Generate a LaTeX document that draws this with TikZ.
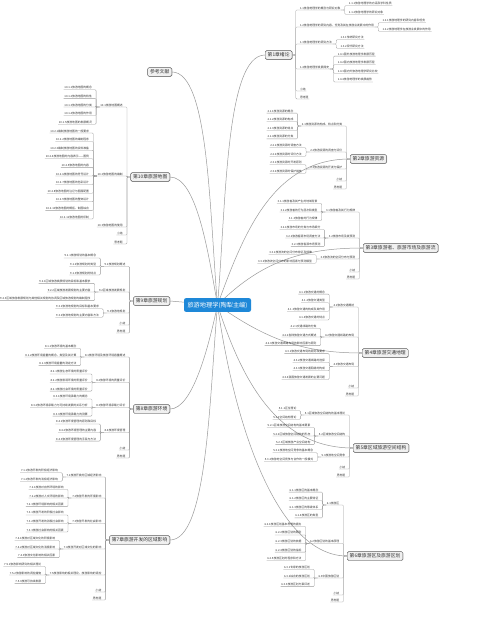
\documentclass[tikz,border=0pt]{standalone}
\usepackage{fontspec}
\setmainfont{Noto Sans CJK SC}
\usetikzlibrary{calc,positioning,shadows,backgrounds}
\definecolor{Ink}{HTML}{333333}
\definecolor{Wire}{HTML}{9A9A9A}
\definecolor{Ocean}{HTML}{1E88D8}
\definecolor{Mist}{HTML}{F0F0F0}
\definecolor{Slate}{HTML}{5A5A5A}
\colorlet{mapLine}{Wire}
% sub-topics laid out to the left / right of a parent
\newcommand\subtopics[3]{%
  \foreach \txt [count=\i from 0] in {#3}{
    \node[leaf,anchor=east] (#1-\i) at ([xshift=-7pt,yshift={((#2-1)/2-\i)*8.6pt}]#1.west) {\txt};
    \draw[conn] (#1.south west) -- ++(-3.5,0) |- (#1-\i.south east) -- (#1-\i.south west);
  }}
\newcommand\subtopicsR[3]{%
  \foreach \txt [count=\i from 0] in {#3}{
    \node[leaf,anchor=west] (#1-\i) at ([xshift=7pt,yshift={((#2-1)/2-\i)*8.6pt}]#1.east) {\txt};
    \draw[conn] (#1.south east) -- ++(3.5,0) |- (#1-\i.south west) -- (#1-\i.south east);
  }}
\begin{document}
\begin{tikzpicture}[x=1pt,y=-1pt,
 root/.style={fill=Ocean,text=white,rounded corners=2pt,inner xsep=3.5pt,inner ysep=3.6pt,
   font=\fontsize{6.2}{7}\selectfont},
 chap/.style={draw=Slate,fill=Mist,rounded corners=1.5pt,inner xsep=2.5pt,inner ysep=2.2pt,
   line width=0.4pt,font=\fontsize{4.8}{5.5}\selectfont,text=Ink,
   drop shadow={shadow xshift=0.5pt,shadow yshift=-0.5pt,opacity=0.35}},
 leaf/.style={inner xsep=0.6pt,inner ysep=0.5pt,font=\fontsize{2.8}{3.2}\selectfont,text=Ink},
 conn/.style={draw=mapLine,line width=0.3pt,rounded corners=1pt},
 trunk/.style={draw=mapLine,line width=0.5pt}]
 \useasboundingbox (0,0) rectangle (500,617);
 \node[root] (root) at (217.5,305) {旅游地理学(陶犁主编)};
 % chapters
 \node[chap,anchor=west] (ch1) at (265,55) {第1章绪论};
 \node[chap,anchor=west] (ch2) at (350,159) {第2章旅游资源};
 \node[chap,anchor=west] (ch3) at (363,248) {第3章旅游者、旅游市场及旅游流};
 \node[chap,anchor=west] (ch4) at (362,353) {第4章旅游交通地理};
 \node[chap,anchor=west] (ch5) at (353,448) {第5章区域旅游空间结构};
 \node[chap,anchor=west] (ch6) at (347,556) {第6章旅游区及旅游区划};
 \node[chap,anchor=east] (ref) at (172,72) {参考文献};
 \node[chap,anchor=east] (ch10) at (170,177) {第10章旅游地图};
 \node[chap,anchor=east] (ch9) at (170,301) {第9章旅游规划};
 \node[chap,anchor=east] (ch8) at (170,409) {第8章旅游环境};
 \node[chap,anchor=east] (ch7) at (170,540) {第7章旅游开发的区域影响};
 \begin{scope}[on background layer]
  \fill[white] (0,0) rectangle (500,617);
  \draw[trunk] (root.center) to[out=85,in=180,in looseness=0.4] (ch1.west);
  \draw[trunk] (root.center) to[out=70,in=180] (ch2.west);
  \draw[trunk] (root.center) to[out=45,in=180] (ch3.west);
  \draw[trunk] (root.center) to[out=-35,in=180] (ch4.west);
  \draw[trunk] (root.center) to[out=-72,in=180] (ch5.west);
  \draw[trunk] (root.center) to[out=-82,in=180,out looseness=1.2,in looseness=0.6] (ch6.west);
  \draw[trunk] (root.center) to[out=95,in=0,in looseness=0.4] (ref.east);
  \draw[trunk] (root.center) to[out=100,in=0,in looseness=0.5] (ch10.east);
  \draw[trunk] (root.center) -- (ch9.east);
  \draw[trunk] (root.center) to[out=-102,in=0,in looseness=0.5] (ch8.east);
  \draw[trunk] (root.center) to[out=-95,in=0,in looseness=0.4] (ch7.east);
 \end{scope}

 % chapter 1
 \coordinate (s1) at ([xshift=7pt]ch1.east);
 \node[leaf,anchor=west] (c11) at (s1 |- 0,8) {1.1旅游地理学的概念与研究对象};
 \node[leaf,anchor=west] (c12) at (s1 |- 0,25) {1.2旅游地理学的研究内容、任务及其在旅游业发展中的作用};
 \node[leaf,anchor=west] (c13) at (s1 |- 0,42) {1.3旅游地理学的研究方法};
 \node[leaf,anchor=west] (c14) at (s1 |- 0,67) {1.4旅游地理学发展简史};
 \node[leaf,anchor=west] (x1) at (s1 |- 0,89) {小结};
 \node[leaf,anchor=west] (q1) at (s1 |- 0,97) {思考题};
 \foreach \c in {c11,c12,c13,c14,x1,q1}
  \draw[conn] (ch1.east) -- ++(3.5,0) |- (\c.south west) -- (\c.south east);
 \subtopicsR{c11}{2}{1.1.1旅游地理学的内涵及学科性质,1.1.2旅游地理学的研究对象}
 \subtopicsR{c12}{2}{1.2.1旅游地理学的研究内容和任务,1.2.2旅游地理学在旅游业发展中的作用}
 \subtopicsR{c13}{2}{1.3.1传统研究方法,1.3.2现代研究方法}
 \subtopicsR{c14}{4}{1.4.1国外旅游地理学发展历程,1.4.2国内旅游地理学发展历程,1.4.3国内外旅游地理学研究比较,1.4.4旅游地理学的发展趋势}

 % chapter 2
 \coordinate (s2) at ([xshift=-7pt]ch2.west);
 \node[leaf,anchor=east] (c21) at (s2 |- 0,124) {2.1旅游资源的构成、特点和分类};
 \node[leaf,anchor=east] (c22) at (s2 |- 0,150) {2.2旅游资源的调查与评价};
 \node[leaf,anchor=east] (c23) at (s2 |- 0,167) {2.3旅游资源的开发与保护};
 \node[leaf,anchor=east] (x2) at (s2 |- 0,179) {小结};
 \node[leaf,anchor=east] (q2) at (s2 |- 0,187) {思考题};
 \foreach \c in {c21,c22,c23,x2,q2}
  \draw[conn] (ch2.west) -- ++(-3.5,0) |- (\c.south east) -- (\c.south west);
 \subtopics{c21}{4}{2.1.1旅游资源的概念,2.1.2旅游资源的构成,2.1.3旅游资源的特点,2.1.4旅游资源的分类}
 \subtopics{c22}{2}{2.2.1旅游资源的调查方法,2.2.2旅游资源的评价方法}
 \subtopics{c23}{2}{2.3.1旅游资源的开发原则,2.3.2旅游资源的保护措施}

 % chapter 3
 \coordinate (s3) at ([xshift=-7pt]ch3.west);
 \node[leaf,anchor=east] (c31) at (s3 |- 0,210) {3.1旅游者及其行为规律};
 \node[leaf,anchor=east] (c32) at (s3 |- 0,236) {3.2旅游市场及其预测};
 \node[leaf,anchor=east] (c33) at (s3 |- 0,257) {3.3旅游流的空间分布与预测};
 \node[leaf,anchor=east] (x3) at (s3 |- 0,270) {小结};
 \node[leaf,anchor=east] (q3) at (s3 |- 0,277) {思考题};
 \foreach \c in {c31,c32,c33,x3,q3}
  \draw[conn] (ch3.west) -- ++(-3.5,0) |- (\c.south east) -- (\c.south west);
 \subtopics{c31}{3}{3.1.1旅游者及其产生的地域背景,3.1.2旅游者的行为层次和类型,3.1.3旅游者的行为规律}
 \subtopics{c32}{3}{3.2.1旅游市场的分类与市场细分,3.2.2旅游客源市场调查方法,3.2.3旅游客源市场预测}
 \subtopics{c33}{2}{3.3.1旅游流的空间分布特征及规律,3.3.2旅游流空间分布的影响因素与预测模型}

 % chapter 4
 \coordinate (s4) at ([xshift=-7pt]ch4.west);
 \node[leaf,anchor=east] (c41) at (s4 |- 0,305) {4.1旅游交通概述};
 \node[leaf,anchor=east] (c42) at (s4 |- 0,335) {4.2旅游交通线路的布局};
 \node[leaf,anchor=east] (c43) at (s4 |- 0,364.5) {4.3旅游交通布局};
 \node[leaf,anchor=east] (x4) at (s4 |- 0,386) {小结};
 \node[leaf,anchor=east] (q4) at (s4 |- 0,394) {思考题};
 \foreach \c in {c41,c42,c43,x4,q4}
  \draw[conn] (ch4.west) -- ++(-3.5,0) |- (\c.south east) -- (\c.south west);
 \subtopics{c41}{4}{4.1.1旅游交通的概念,4.1.2旅游交通类型,4.1.3旅游交通的构成及其作用,4.1.4旅游交通的特点}
 \subtopics{c42}{3}{4.2.1交通线路的分类,4.2.2各种旅游交通方式概述,4.2.3旅游交通线路布局的影响因素与原则}
 \subtopics{c43}{4}{4.3.1旅游交通布局的原则和要求,4.3.2旅游交通线路的选择,4.3.3旅游交通网络的构成,4.3.4我国旅游交通发展的主要问题}

 % chapter 5
 \coordinate (s5) at ([xshift=-7pt]ch5.west);
 \node[leaf,anchor=east] (c51) at (s5 |- 0,413) {5.1区域旅游空间结构的基本理论};
 \node[leaf,anchor=east] (c52) at (s5 |- 0,434) {5.2区域旅游空间结构};
 \node[leaf,anchor=east] (c53) at (s5 |- 0,455) {5.3旅游地空间竞争};
 \node[leaf,anchor=east] (x5) at (s5 |- 0,467) {小结};
 \node[leaf,anchor=east] (q5) at (s5 |- 0,475) {思考题};
 \foreach \c in {c51,c52,c53,x5,q5}
  \draw[conn] (ch5.west) -- ++(-3.5,0) |- (\c.south east) -- (\c.south west);
 \subtopics{c51}{2}{5.1.1区位理论,5.1.2空间结构理论}
 \subtopics{c52}{3}{5.2.1区域旅游空间结构的基本要素,5.2.2区域旅游空间结构的形态,5.2.3区域旅游产业空间结构}
 \subtopics{c53}{2}{5.3.1旅游地空间竞争的基本概念,5.3.2旅游地空间竞争与合作的一般模式}

 % chapter 6
 \coordinate (s6) at ([xshift=-7pt]ch6.west);
 \node[leaf,anchor=east] (c61) at (s6 |- 0,503) {6.1旅游区};
 \node[leaf,anchor=east] (c62) at (s6 |- 0,541.5) {6.2旅游区划的基本原理};
 \node[leaf,anchor=east] (c63) at (s6 |- 0,576) {6.3中国旅游区划};
 \node[leaf,anchor=east] (x6) at (s6 |- 0,593) {小结};
 \node[leaf,anchor=east] (q6) at (s6 |- 0,600) {思考题};
 \foreach \c in {c61,c62,c63,x6,q6}
  \draw[conn] (ch6.west) -- ++(-3.5,0) |- (\c.south east) -- (\c.south west);
 \subtopics{c61}{4}{6.1.1旅游区的基本概念,6.1.2旅游区的主要特征,6.1.3旅游区的等级体系,6.1.4旅游区的类型}
 \subtopics{c62}{5}{6.2.1旅游区划基本思想的提出,6.2.2旅游区划的原则,6.2.3旅游区划的依据,6.2.4旅游区划的指标,6.2.5旅游区划的程序和方法}
 \subtopics{c63}{3}{6.3.1专家的旅游区划,6.3.2综合的旅游区划,6.3.3旅游区划方案评述}

 % chapter 7
 \coordinate (s7) at ([xshift=-7pt]ch7.west);
 \node[leaf,anchor=east] (c71) at (s7 |- 0,475) {7.1旅游开发的区域经济影响};
 \node[leaf,anchor=east] (c72) at (s7 |- 0,496) {7.2旅游开发的环境影响};
 \node[leaf,anchor=east] (c73) at (s7 |- 0,521.5) {7.3旅游开发的社会影响};
 \node[leaf,anchor=east] (c74) at (s7 |- 0,547) {7.4旅游开发对区域文化的影响};
 \node[leaf,anchor=east] (c75) at (s7 |- 0,573) {7.5旅游影响的相关理论、旅游影响的调控};
 \node[leaf,anchor=east] (x7) at (s7 |- 0,590) {小结};
 \node[leaf,anchor=east] (q7) at (s7 |- 0,598) {思考题};
 \foreach \c in {c71,c72,c73,c74,c75,x7,q7}
  \draw[conn] (ch7.west) -- ++(-3.5,0) |- (\c.south east) -- (\c.south west);
 \subtopics{c71}{2}{7.1.1旅游开发的积极经济影响,7.1.2旅游开发的消极经济影响}
 \subtopics{c72}{3}{7.2.1旅游对自然环境的影响,7.2.2旅游对人文环境的影响,7.2.3旅游环境影响的相关因素}
 \subtopics{c73}{3}{7.3.1旅游开发的积极社会影响,7.3.2旅游开发的消极社会影响,7.3.3旅游社会影响的相关因素}
 \subtopics{c74}{3}{7.4.1旅游对区域文化的积极影响,7.4.2旅游对区域文化的消极影响,7.4.3旅游文化影响的相关因素}
 \subtopics{c75}{3}{7.5.1旅游影响研究的相关理论,7.5.2旅游影响的调控措施,7.5.3旅游可持续发展}

 % chapter 8
 \coordinate (s8) at ([xshift=-7pt]ch8.west);
 \node[leaf,anchor=east] (c81) at (s8 |- 0,355) {8.1旅游环境及旅游环境容量概述};
 \node[leaf,anchor=east] (c82) at (s8 |- 0,380.5) {8.2旅游环境的质量评价};
 \node[leaf,anchor=east] (c83) at (s8 |- 0,405.5) {8.3旅游环境承载力评价};
 \node[leaf,anchor=east] (c84) at (s8 |- 0,430.5) {8.4旅游环境管理};
 \node[leaf,anchor=east] (x8) at (s8 |- 0,448) {小结};
 \node[leaf,anchor=east] (q8) at (s8 |- 0,456) {思考题};
 \foreach \c in {c81,c82,c83,c84,x8,q8}
  \draw[conn] (ch8.west) -- ++(-3.5,0) |- (\c.south east) -- (\c.south west);
 \subtopics{c81}{3}{8.1.1旅游环境的基本概念,8.1.2旅游环境容量的概念、类型及其计算,8.1.3旅游环境容量的测定方法}
 \subtopics{c82}{3}{8.2.1旅游生态环境的质量评价,8.2.2旅游景观环境的质量评价,8.2.3旅游社会环境的质量评价}
 \subtopics{c83}{3}{8.3.1旅游环境承载力的概念,8.3.2旅游环境承载力与可持续发展的关系分析,8.3.3旅游环境承载力的测算}
 \subtopics{c84}{3}{8.4.1旅游环境管理的原则和目标,8.4.2旅游环境管理的主要内容,8.4.3旅游环境管理的手段与方法}

 % chapter 9
 \coordinate (s9) at ([xshift=-7pt]ch9.west);
 \node[leaf,anchor=east] (c91) at (s9 |- 0,264.5) {9.1旅游规划概述};
 \node[leaf,anchor=east] (c92) at (s9 |- 0,290) {9.2区域旅游发展规划};
 \node[leaf,anchor=east] (c93) at (s9 |- 0,311) {9.3旅游地规划};
 \node[leaf,anchor=east] (x9) at (s9 |- 0,323) {小结};
 \node[leaf,anchor=east] (q9) at (s9 |- 0,331) {思考题};
 \foreach \c in {c91,c92,c93,x9,q9}
  \draw[conn] (ch9.west) -- ++(-3.5,0) |- (\c.south east) -- (\c.south west);
 \subtopics{c91}{3}{9.1.1旅游规划的基本概念,9.1.2旅游规划的类型,9.1.3旅游规划的特点}
 \subtopics{c92}{3}{9.2.1区域旅游发展规划的目标和基本要求,9.2.2区域旅游发展规划的主要内容,9.2.3区域旅游发展规划与其他相关规划的协调及区域旅游规划的编制程序}
 \subtopics{c93}{2}{9.3.1旅游地规划的目标和基本要求,9.3.2旅游地规划的主要内容和方法}

 % chapter 10
 \coordinate (s10) at ([xshift=-7pt]ch10.west);
 \node[leaf,anchor=east] (c101) at (s10 |- 0,105) {10.1旅游地图概述};
 \node[leaf,anchor=east] (c102) at (s10 |- 0,174) {10.2旅游地图的编制};
 \node[leaf,anchor=east] (c103) at (s10 |- 0,225) {10.3旅游地图的使用};
 \node[leaf,anchor=east] (x10) at (s10 |- 0,233) {小结};
 \node[leaf,anchor=east] (q10) at (s10 |- 0,242) {思考题};
 \foreach \c in {c101,c102,c103,x10,q10}
  \draw[conn] (ch10.west) -- ++(-3.5,0) |- (\c.south east) -- (\c.south west);
 \subtopics{c101}{5}{10.1.1旅游地图的概念,10.1.2旅游地图的特性,10.1.3旅游地图的分类,10.1.4旅游地图的作用,10.1.5旅游地图的发展概况}
 \subtopics{c102}{11}{10.2.1编制旅游地图的一般要求,10.2.2旅游地图的编制程序,10.2.3编制旅游地图的资料准备,10.2.4旅游地图的内容表示——图例,10.2.5旅游地图的内容,10.2.6旅游地图的符号设计,10.2.7旅游地图的色彩设计,10.2.8旅游地图的注记与图面配置,10.2.9旅游地图的整饰设计,10.2.10旅游地图的概括、制图综合,10.2.11旅游地图的印制}
\end{tikzpicture}
\end{document}
